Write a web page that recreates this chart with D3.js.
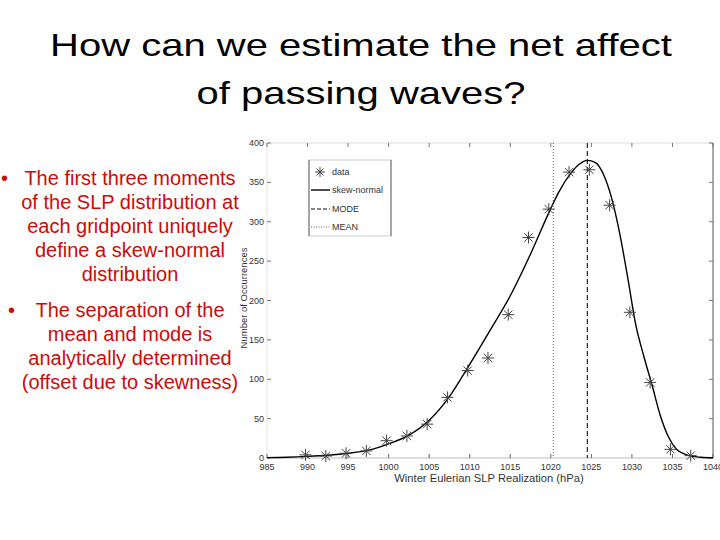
<!DOCTYPE html>
<html>
<head>
<meta charset="utf-8">
<script src="https://cdn.jsdelivr.net/npm/d3@7"></script>
<style>
  body { margin: 0; background: #fff; }
  svg { display: block; font-family: "Liberation Sans", Arial, sans-serif; }
</style>
</head>
<body>
<svg id="chart" width="720" height="540"></svg>
<script>
// observed SLP histogram (asterisks)
const dataSLP = [989.75, 992.25, 994.75, 997.25, 999.75, 1002.25, 1004.75, 1007.25, 1009.75, 1012.25,
                 1014.75, 1017.25, 1019.75, 1022.25, 1024.75, 1027.25, 1029.75, 1032.25, 1034.75, 1037.25];
const dataCount = [4, 2.5, 6, 9, 22, 28, 43, 77, 111, 127,
                   182, 280, 316, 363, 366, 321, 185, 96, 11, 3];

// fitted skew-normal curve
const fitSLP = [985, 987.5, 990, 992.5, 995, 997.5, 1000, 1002.5, 1005, 1007.5, 1010, 1012.5,
                1015, 1017.5, 1020, 1021, 1022.5, 1023.5, 1024.5, 1025.5, 1026.5, 1027.5, 1028.5,
                1029.5, 1030.5, 1031.5, 1032.5, 1033.5, 1034.5, 1035.5, 1036.5, 1037.5, 1038.5, 1040];
const fitCount = [0.5, 1, 2, 3.5, 6, 10, 18, 29, 48, 78, 119, 162,
                  206, 259, 317, 338, 362, 373, 378, 375, 360, 330, 285,
                  228, 168, 128, 92, 54, 27, 11, 5, 2, 1, 0.3];

const meanSLP = 1020.3;
const modeSLP = 1024.5;

const xTicks = [985, 990, 995, 1000, 1005, 1010, 1015, 1020, 1025, 1030, 1035, 1040];
const yTicks = [0, 50, 100, 150, 200, 250, 300, 350, 400];

const titleLines = ["How can we estimate the net affect", "of passing waves?"];
const bullet1 = ["The first three moments", "of the SLP distribution at", "each gridpoint uniquely",
                 "define a skew-normal", "distribution"];
const bullet2 = ["The separation of the", "mean and mode is", "analytically determined",
                 "(offset due to skewness)"];

const svg = d3.select("#chart");

// title (slide text is stretched sideways)
svg.append("g").selectAll("text")
  .data(titleLines).enter().append("text")
  .attr("transform", (d, i) => `translate(361,${56 + i * 48}) scale(1.25,1)`)
  .attr("text-anchor", "middle")
  .attr("font-size", 32)
  .attr("fill", "#000")
  .text(d => d);

// bullet text
const red = "#cc0a0a";
const bt = svg.append("g").attr("fill", red).attr("font-size", 20);
bt.selectAll(".b1").data(bullet1).enter().append("text")
  .attr("x", 130).attr("y", (d, i) => 185 + i * 24)
  .attr("text-anchor", "middle").text(d => d);
bt.selectAll(".b2").data(bullet2).enter().append("text")
  .attr("x", 130).attr("y", (d, i) => 317 + i * 24)
  .attr("text-anchor", "middle").text(d => d);
bt.append("text").attr("x", 1).attr("y", 185).text("•");
bt.append("text").attr("x", 8).attr("y", 317).text("•");

// plot area
const pLeft = 267, pRight = 713, pTop = 143, pBottom = 458;
const x = d3.scaleLinear().domain([985, 1040]).range([pLeft, pRight]);
const y = d3.scaleLinear().domain([0, 400]).range([pBottom, pTop]);

const g = svg.append("g");

// box
g.append("line").attr("x1", pLeft).attr("x2", pRight).attr("y1", pTop).attr("y2", pTop).attr("stroke", "#ddd");
g.append("line").attr("x1", pLeft).attr("x2", pLeft).attr("y1", pTop).attr("y2", pBottom).attr("stroke", "#e4e4e4");
g.append("line").attr("x1", pLeft).attr("x2", pRight).attr("y1", pBottom).attr("y2", pBottom).attr("stroke", "#bbb");
g.append("line").attr("x1", pRight).attr("x2", pRight).attr("y1", pTop).attr("y2", pBottom).attr("stroke", "#555");

// inward ticks on all sides
const tk = 4;
g.selectAll(".xtb").data(xTicks).enter().append("line")
  .attr("x1", d => x(d)).attr("x2", d => x(d)).attr("y1", pBottom).attr("y2", pBottom - tk)
  .attr("stroke", "#666");
g.selectAll(".xtt").data(xTicks).enter().append("line")
  .attr("x1", d => x(d)).attr("x2", d => x(d)).attr("y1", pTop).attr("y2", pTop + tk)
  .attr("stroke", "#777");
g.selectAll(".ytl").data(yTicks).enter().append("line")
  .attr("x1", pLeft).attr("x2", pLeft + tk).attr("y1", d => y(d)).attr("y2", d => y(d))
  .attr("stroke", "#777");
g.selectAll(".ytr").data(yTicks).enter().append("line")
  .attr("x1", pRight).attr("x2", pRight - tk).attr("y1", d => y(d)).attr("y2", d => y(d))
  .attr("stroke", "#777");

// tick labels
g.selectAll(".xl").data(xTicks).enter().append("text")
  .attr("x", d => x(d)).attr("y", pBottom + 12)
  .attr("text-anchor", "middle").attr("font-size", 9).attr("fill", "#333")
  .text(d => d);
g.selectAll(".yl").data(yTicks).enter().append("text")
  .attr("x", pLeft - 3).attr("y", d => y(d) + 3)
  .attr("text-anchor", "end").attr("font-size", 9).attr("fill", "#333")
  .text(d => d);

// axis titles
g.append("text")
  .attr("x", 489).attr("y", 482)
  .attr("text-anchor", "middle").attr("font-size", 11.2).attr("fill", "#333")
  .text("Winter Eulerian SLP Realization (hPa)");
g.append("text")
  .attr("transform", `translate(247,298) rotate(-90)`)
  .attr("text-anchor", "middle").attr("font-size", 9.5).attr("fill", "#333")
  .text("Number of Occurrences");

// mean and mode lines
g.append("line").attr("x1", x(meanSLP)).attr("x2", x(meanSLP)).attr("y1", pTop).attr("y2", pBottom)
  .attr("stroke", "#555").attr("stroke-width", 1).attr("stroke-dasharray", "1,2");
g.append("line").attr("x1", x(modeSLP)).attr("x2", x(modeSLP)).attr("y1", pTop).attr("y2", pBottom)
  .attr("stroke", "#111").attr("stroke-width", 1.1).attr("stroke-dasharray", "5,3");

// fitted curve
const fit = fitSLP.map((v, i) => ({ v: v, c: fitCount[i] }));
g.append("path").datum(fit)
  .attr("fill", "none").attr("stroke", "#000").attr("stroke-width", 1.4)
  .attr("d", d3.line().x(d => x(d.v)).y(d => y(d.c)).curve(d3.curveMonotoneX));

// asterisk markers
function star(cx, cy, r) {
  const d = r * 0.7;
  return `M${cx - r},${cy}H${cx + r}M${cx},${cy - r}V${cy + r}` +
         `M${cx - d},${cy - d}L${cx + d},${cy + d}M${cx - d},${cy + d}L${cx + d},${cy - d}`;
}
g.selectAll(".pt").data(dataSLP).enter().append("path")
  .attr("d", (d, i) => star(x(d), y(dataCount[i]), 6))
  .attr("stroke", "#444").attr("stroke-width", 1).attr("fill", "none");

// legend
const lg = svg.append("g");
lg.append("rect").attr("x", 309).attr("y", 160).attr("width", 82).attr("height", 76)
  .attr("fill", "#fff").attr("stroke", "#ccc");
lg.append("line").attr("x1", 309).attr("x2", 309).attr("y1", 160).attr("y2", 236).attr("stroke", "#666");
lg.append("line").attr("x1", 391).attr("x2", 391).attr("y1", 160).attr("y2", 236).attr("stroke", "#666");
const legItems = ["data", "skew-normal", "MODE", "MEAN"];
const legY = [172, 190, 209, 227];
lg.append("path").attr("d", star(320, legY[0], 5)).attr("stroke", "#444").attr("fill", "none");
lg.append("line").attr("x1", 311).attr("x2", 330).attr("y1", legY[1]).attr("y2", legY[1])
  .attr("stroke", "#000").attr("stroke-width", 1.4);
lg.append("line").attr("x1", 311).attr("x2", 330).attr("y1", legY[2]).attr("y2", legY[2])
  .attr("stroke", "#111").attr("stroke-width", 1.1).attr("stroke-dasharray", "4,2");
lg.append("line").attr("x1", 311).attr("x2", 330).attr("y1", legY[3]).attr("y2", legY[3])
  .attr("stroke", "#666").attr("stroke-dasharray", "1,1.5");
lg.selectAll(".lt").data(legItems).enter().append("text")
  .attr("x", 332).attr("y", (d, i) => legY[i] + 3)
  .attr("font-size", 9).attr("fill", "#333")
  .text(d => d);
</script>
</body>
</html>
